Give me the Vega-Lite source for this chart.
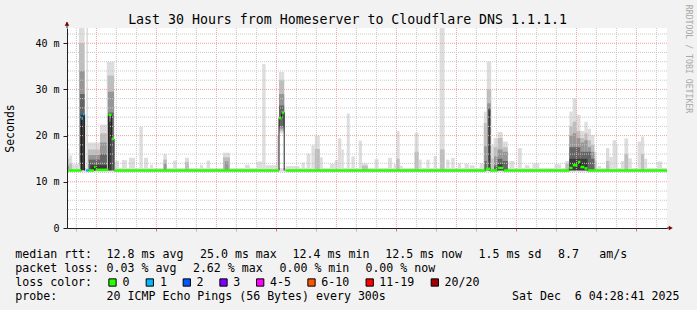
{
  "$schema": "https://vega.github.io/schema/vega-lite/v6.json",
  "width": 600,
  "height": 200,
  "autosize": {"type": "none"},
  "padding": {"left": 67, "top": 28, "right": 30, "bottom": 82},
  "background": "#f2f2f2",
  "config": {
    "view": {"fill": "#ffffff", "stroke": null},
    "font": "DejaVu Sans Mono",
    "axis": {"labelFont": "DejaVu Sans Mono", "titleFont": "DejaVu Sans Mono", "labelColor": "#000000", "titleColor": "#000000", "titleFontWeight": "normal"}
  },
  "datasets": {
    "smoke": [
      {"band":1,"h0":-1.47,"h1":28.53,"lo":12.2,"hi":13.0},
      {"band":1,"h0":-1.47,"h1":-1.36,"lo":12.3,"hi":17.2},
      {"band":1,"h0":-1.36,"h1":-1.21,"lo":12.3,"hi":15.7},
      {"band":1,"h0":-1.21,"h1":-0.87,"lo":12.3,"hi":13.8},
      {"band":1,"h0":-0.87,"h1":-0.59,"lo":12.3,"hi":43.3},
      {"band":1,"h0":-0.50,"h1":-0.42,"lo":12.3,"hi":43.3},
      {"band":1,"h0":-0.42,"h1":0.18,"lo":12.3,"hi":18.5},
      {"band":1,"h0":0.18,"h1":0.52,"lo":12.3,"hi":22.4},
      {"band":1,"h0":0.52,"h1":0.90,"lo":12.3,"hi":36.0},
      {"band":1,"h0":0.90,"h1":1.13,"lo":12.3,"hi":14.5},
      {"band":1,"h0":1.27,"h1":1.52,"lo":12.3,"hi":14.7},
      {"band":1,"h0":1.63,"h1":1.93,"lo":12.3,"hi":15.2},
      {"band":1,"h0":2.15,"h1":2.32,"lo":12.3,"hi":21.9},
      {"band":1,"h0":2.38,"h1":2.58,"lo":12.3,"hi":15.2},
      {"band":1,"h0":2.68,"h1":2.83,"lo":12.3,"hi":13.7},
      {"band":1,"h0":3.35,"h1":3.52,"lo":12.3,"hi":16.0},
      {"band":1,"h0":3.84,"h1":4.01,"lo":12.3,"hi":14.6},
      {"band":1,"h0":4.43,"h1":4.63,"lo":12.3,"hi":15.2},
      {"band":1,"h0":5.18,"h1":5.33,"lo":12.3,"hi":13.7},
      {"band":1,"h0":5.51,"h1":5.68,"lo":12.3,"hi":14.6},
      {"band":1,"h0":6.33,"h1":6.68,"lo":12.3,"hi":16.3},
      {"band":1,"h0":7.42,"h1":7.67,"lo":12.3,"hi":13.7},
      {"band":1,"h0":8.01,"h1":8.29,"lo":12.3,"hi":14.4},
      {"band":1,"h0":8.29,"h1":8.46,"lo":12.3,"hi":35.5},
      {"band":1,"h0":8.46,"h1":9.02,"lo":12.3,"hi":13.6},
      {"band":1,"h0":9.02,"h1":9.13,"lo":12.3,"hi":20.0},
      {"band":1,"h0":9.13,"h1":9.39,"lo":20.5,"hi":33.8},
      {"band":1,"h0":9.47,"h1":10.16,"lo":12.3,"hi":13.4},
      {"band":1,"h0":10.26,"h1":10.42,"lo":12.3,"hi":14.2},
      {"band":1,"h0":10.51,"h1":10.70,"lo":12.3,"hi":16.1},
      {"band":1,"h0":10.75,"h1":10.92,"lo":12.3,"hi":17.9},
      {"band":1,"h0":10.92,"h1":11.17,"lo":12.3,"hi":20.0},
      {"band":1,"h0":11.17,"h1":11.32,"lo":12.3,"hi":15.3},
      {"band":1,"h0":11.67,"h1":11.92,"lo":12.3,"hi":13.9},
      {"band":1,"h0":11.92,"h1":12.07,"lo":12.3,"hi":14.7},
      {"band":1,"h0":12.07,"h1":12.25,"lo":12.3,"hi":19.4},
      {"band":1,"h0":12.25,"h1":12.37,"lo":12.3,"hi":17.0},
      {"band":1,"h0":12.52,"h1":12.67,"lo":12.3,"hi":24.8},
      {"band":1,"h0":12.75,"h1":12.92,"lo":12.3,"hi":15.5},
      {"band":1,"h0":13.12,"h1":13.28,"lo":12.3,"hi":18.9},
      {"band":1,"h0":13.28,"h1":13.57,"lo":12.3,"hi":14.0},
      {"band":1,"h0":13.91,"h1":14.11,"lo":12.3,"hi":14.9},
      {"band":1,"h0":14.58,"h1":14.78,"lo":12.3,"hi":15.2},
      {"band":1,"h0":14.86,"h1":15.00,"lo":12.3,"hi":13.8},
      {"band":1,"h0":15.00,"h1":15.16,"lo":12.3,"hi":21.0},
      {"band":1,"h0":15.16,"h1":15.31,"lo":12.3,"hi":13.5},
      {"band":1,"h0":15.91,"h1":16.11,"lo":12.3,"hi":20.6},
      {"band":1,"h0":16.11,"h1":16.26,"lo":12.3,"hi":14.8},
      {"band":1,"h0":16.50,"h1":16.66,"lo":12.3,"hi":14.8},
      {"band":1,"h0":16.86,"h1":17.03,"lo":12.3,"hi":15.6},
      {"band":1,"h0":17.16,"h1":17.41,"lo":12.3,"hi":43.3},
      {"band":1,"h0":17.49,"h1":17.66,"lo":12.3,"hi":14.8},
      {"band":1,"h0":17.74,"h1":17.91,"lo":12.3,"hi":15.2},
      {"band":1,"h0":18.07,"h1":18.24,"lo":12.3,"hi":14.0},
      {"band":1,"h0":18.41,"h1":18.62,"lo":12.3,"hi":13.9},
      {"band":1,"h0":18.66,"h1":18.91,"lo":12.3,"hi":13.6},
      {"band":1,"h0":19.16,"h1":19.37,"lo":12.3,"hi":14.0},
      {"band":1,"h0":19.37,"h1":19.52,"lo":12.3,"hi":25.2},
      {"band":1,"h0":19.52,"h1":19.74,"lo":12.3,"hi":36.0},
      {"band":1,"h0":19.74,"h1":19.86,"lo":12.3,"hi":18.0},
      {"band":1,"h0":19.86,"h1":20.06,"lo":12.3,"hi":19.5},
      {"band":1,"h0":20.06,"h1":20.31,"lo":12.3,"hi":20.8},
      {"band":1,"h0":20.31,"h1":20.57,"lo":12.3,"hi":18.7},
      {"band":1,"h0":20.65,"h1":20.90,"lo":12.3,"hi":14.5},
      {"band":1,"h0":21.07,"h1":21.27,"lo":12.3,"hi":17.3},
      {"band":1,"h0":21.41,"h1":21.66,"lo":12.3,"hi":13.6},
      {"band":1,"h0":21.80,"h1":22.15,"lo":12.3,"hi":14.0},
      {"band":1,"h0":22.90,"h1":23.24,"lo":12.3,"hi":13.8},
      {"band":1,"h0":23.45,"h1":23.65,"lo":12.3,"hi":14.5},
      {"band":1,"h0":23.65,"h1":23.81,"lo":12.3,"hi":25.2},
      {"band":1,"h0":23.81,"h1":24.01,"lo":12.3,"hi":28.1},
      {"band":1,"h0":24.01,"h1":24.20,"lo":12.3,"hi":24.5},
      {"band":1,"h0":24.20,"h1":24.40,"lo":12.3,"hi":21.0},
      {"band":1,"h0":24.40,"h1":24.56,"lo":12.3,"hi":23.0},
      {"band":1,"h0":24.56,"h1":24.73,"lo":12.3,"hi":21.5},
      {"band":1,"h0":24.73,"h1":24.90,"lo":12.3,"hi":20.1},
      {"band":1,"h0":24.90,"h1":25.00,"lo":12.3,"hi":16.5},
      {"band":1,"h0":25.06,"h1":25.23,"lo":12.3,"hi":13.4},
      {"band":1,"h0":25.48,"h1":25.65,"lo":12.3,"hi":17.3},
      {"band":1,"h0":25.65,"h1":25.81,"lo":12.3,"hi":15.4},
      {"band":1,"h0":25.81,"h1":25.98,"lo":12.3,"hi":19.0},
      {"band":1,"h0":25.98,"h1":26.06,"lo":12.3,"hi":18.3},
      {"band":1,"h0":26.23,"h1":26.40,"lo":12.3,"hi":14.5},
      {"band":1,"h0":26.40,"h1":26.59,"lo":12.3,"hi":19.4},
      {"band":1,"h0":26.59,"h1":26.77,"lo":12.3,"hi":15.1},
      {"band":1,"h0":27.06,"h1":27.23,"lo":12.3,"hi":18.7},
      {"band":1,"h0":27.23,"h1":27.39,"lo":12.3,"hi":19.8},
      {"band":1,"h0":27.39,"h1":27.54,"lo":12.3,"hi":15.0},
      {"band":1,"h0":28.04,"h1":28.29,"lo":12.3,"hi":14.4},
      {"band":2,"h0":-1.47,"h1":-1.36,"lo":12.4,"hi":15.0},
      {"band":2,"h0":-1.36,"h1":-1.21,"lo":12.4,"hi":14.0},
      {"band":2,"h0":-0.87,"h1":-0.59,"lo":13.5,"hi":40.0},
      {"band":2,"h0":-0.42,"h1":0.18,"lo":12.4,"hi":17.0},
      {"band":2,"h0":0.18,"h1":0.52,"lo":12.4,"hi":20.5},
      {"band":2,"h0":0.56,"h1":0.88,"lo":12.4,"hi":33.0},
      {"band":2,"h0":3.35,"h1":3.52,"lo":12.4,"hi":14.8},
      {"band":2,"h0":4.43,"h1":4.63,"lo":12.4,"hi":14.3},
      {"band":2,"h0":6.33,"h1":6.68,"lo":12.4,"hi":15.3},
      {"band":2,"h0":9.13,"h1":9.39,"lo":21.0,"hi":32.0},
      {"band":2,"h0":10.92,"h1":11.17,"lo":12.4,"hi":17.1},
      {"band":2,"h0":13.28,"h1":13.57,"lo":12.4,"hi":13.5},
      {"band":2,"h0":15.00,"h1":15.16,"lo":12.4,"hi":15.0},
      {"band":2,"h0":15.91,"h1":16.11,"lo":12.4,"hi":16.5},
      {"band":2,"h0":17.18,"h1":17.41,"lo":12.4,"hi":17.0},
      {"band":2,"h0":19.37,"h1":19.52,"lo":12.4,"hi":22.7},
      {"band":2,"h0":19.52,"h1":19.74,"lo":12.4,"hi":30.0},
      {"band":2,"h0":19.74,"h1":19.86,"lo":12.4,"hi":15.0},
      {"band":2,"h0":19.86,"h1":20.06,"lo":12.4,"hi":17.5},
      {"band":2,"h0":20.06,"h1":20.31,"lo":12.4,"hi":19.5},
      {"band":2,"h0":20.31,"h1":20.57,"lo":12.4,"hi":17.5},
      {"band":2,"h0":23.45,"h1":23.65,"lo":12.4,"hi":14.0},
      {"band":2,"h0":23.65,"h1":23.81,"lo":12.4,"hi":22.0},
      {"band":2,"h0":23.81,"h1":24.01,"lo":12.4,"hi":23.0},
      {"band":2,"h0":24.01,"h1":24.20,"lo":12.4,"hi":21.0},
      {"band":2,"h0":24.20,"h1":24.40,"lo":12.4,"hi":19.5},
      {"band":2,"h0":24.40,"h1":24.56,"lo":12.4,"hi":20.5},
      {"band":2,"h0":24.56,"h1":24.73,"lo":12.4,"hi":19.0},
      {"band":2,"h0":24.73,"h1":24.90,"lo":12.4,"hi":18.0},
      {"band":2,"h0":24.90,"h1":25.00,"lo":12.4,"hi":14.5},
      {"band":2,"h0":25.48,"h1":25.65,"lo":12.4,"hi":14.5},
      {"band":2,"h0":26.40,"h1":26.59,"lo":12.4,"hi":16.0},
      {"band":2,"h0":27.23,"h1":27.39,"lo":12.4,"hi":16.0},
      {"band":3,"h0":-1.47,"h1":-1.36,"lo":12.4,"hi":13.5},
      {"band":3,"h0":-0.84,"h1":-0.59,"lo":14.0,"hi":34.0},
      {"band":3,"h0":-0.40,"h1":0.18,"lo":12.4,"hi":15.8},
      {"band":3,"h0":0.18,"h1":0.52,"lo":12.4,"hi":18.5},
      {"band":3,"h0":0.58,"h1":0.88,"lo":12.5,"hi":29.5},
      {"band":3,"h0":3.37,"h1":3.50,"lo":12.4,"hi":14.0},
      {"band":3,"h0":6.41,"h1":6.61,"lo":12.4,"hi":14.4},
      {"band":3,"h0":9.13,"h1":9.39,"lo":21.5,"hi":29.0},
      {"band":3,"h0":19.39,"h1":19.52,"lo":12.5,"hi":17.7},
      {"band":3,"h0":19.54,"h1":19.72,"lo":12.5,"hi":27.0},
      {"band":3,"h0":19.88,"h1":20.06,"lo":12.5,"hi":15.5},
      {"band":3,"h0":20.06,"h1":20.31,"lo":12.5,"hi":17.0},
      {"band":3,"h0":20.31,"h1":20.57,"lo":12.5,"hi":16.5},
      {"band":3,"h0":23.65,"h1":23.81,"lo":12.5,"hi":20.0},
      {"band":3,"h0":23.81,"h1":24.01,"lo":12.5,"hi":20.5},
      {"band":3,"h0":24.01,"h1":24.20,"lo":12.5,"hi":19.5},
      {"band":3,"h0":24.20,"h1":24.40,"lo":12.5,"hi":18.5},
      {"band":3,"h0":24.40,"h1":24.56,"lo":12.5,"hi":19.0},
      {"band":3,"h0":24.56,"h1":24.73,"lo":12.5,"hi":17.5},
      {"band":3,"h0":24.73,"h1":24.90,"lo":12.5,"hi":16.5},
      {"band":4,"h0":-0.82,"h1":-0.59,"lo":14.5,"hi":29.0},
      {"band":4,"h0":-0.38,"h1":0.18,"lo":12.5,"hi":14.8},
      {"band":4,"h0":0.18,"h1":0.52,"lo":12.5,"hi":16.0},
      {"band":4,"h0":0.59,"h1":0.86,"lo":12.5,"hi":25.0},
      {"band":4,"h0":9.13,"h1":9.39,"lo":22.0,"hi":26.5},
      {"band":4,"h0":19.41,"h1":19.52,"lo":12.5,"hi":14.5},
      {"band":4,"h0":19.58,"h1":19.70,"lo":12.5,"hi":26.0},
      {"band":4,"h0":19.88,"h1":20.06,"lo":12.5,"hi":13.5},
      {"band":4,"h0":20.06,"h1":20.31,"lo":12.5,"hi":15.0},
      {"band":4,"h0":20.31,"h1":20.57,"lo":12.5,"hi":14.5},
      {"band":4,"h0":23.65,"h1":24.20,"lo":12.5,"hi":17.5},
      {"band":4,"h0":24.20,"h1":24.73,"lo":12.5,"hi":16.5},
      {"band":4,"h0":24.73,"h1":24.90,"lo":12.5,"hi":15.0},
      {"band":5,"h0":-0.80,"h1":-0.59,"lo":12.5,"hi":24.5},
      {"band":5,"h0":-0.30,"h1":0.52,"lo":12.5,"hi":13.6},
      {"band":5,"h0":0.60,"h1":0.76,"lo":12.5,"hi":23.0},
      {"band":5,"h0":19.61,"h1":19.69,"lo":12.5,"hi":25.5},
      {"band":5,"h0":20.06,"h1":20.31,"lo":12.5,"hi":13.8},
      {"band":5,"h0":23.65,"h1":24.56,"lo":12.5,"hi":15.0}
    ],
    "gridX": [{"g":-1},{"g":0},{"g":1},{"g":2},{"g":3},{"g":4},{"g":5},{"g":6},{"g":7},{"g":8},{"g":9},{"g":10},{"g":11},{"g":12},{"g":13},{"g":14},{"g":15},{"g":16},{"g":17},{"g":18},{"g":19},{"g":20},{"g":21},{"g":22},{"g":23},{"g":24},{"g":25},{"g":26},{"g":27},{"g":28}],
    "gridY": [{"g":2},{"g":4},{"g":6},{"g":8},{"g":10},{"g":12},{"g":14},{"g":16},{"g":18},{"g":20},{"g":22},{"g":24},{"g":26},{"g":28},{"g":30},{"g":32},{"g":34},{"g":36},{"g":38},{"g":40},{"g":42}],
    "medLine": [
      {"seg":"a","i":1,"h":-1.47,"v":12.45},{"seg":"a","i":2,"h":-0.75,"v":12.45},{"seg":"a","i":3,"h":-0.75,"v":23.7},{"seg":"a","i":4,"h":-0.67,"v":23.7},{"seg":"a","i":5,"h":-0.67,"v":24.6},{"seg":"a","i":6,"h":-0.59,"v":24.6},{"seg":"a","i":7,"h":-0.59,"v":12.45},
      {"seg":"b","i":8,"h":-0.50,"v":12.45},{"seg":"b","i":9,"h":-0.12,"v":12.45},{"seg":"b","i":10,"h":-0.12,"v":13.2},{"seg":"b","i":11,"h":-0.04,"v":13.2},{"seg":"b","i":12,"h":-0.04,"v":12.6},{"seg":"b","i":13,"h":0.60,"v":12.6},{"seg":"b","i":14,"h":0.60,"v":24.5},{"seg":"b","i":15,"h":0.76,"v":24.5},{"seg":"b","i":16,"h":0.76,"v":19.3},{"seg":"b","i":17,"h":0.88,"v":19.3},{"seg":"b","i":18,"h":0.88,"v":12.45},{"seg":"b","i":19,"h":9.13,"v":12.45},{"seg":"b","i":20,"h":9.13,"v":23.8},{"seg":"b","i":21,"h":9.26,"v":23.8},{"seg":"b","i":22,"h":9.26,"v":25.0},{"seg":"b","i":23,"h":9.39,"v":25.0},{"seg":"b","i":24,"h":9.39,"v":12.45},
      {"seg":"c","i":25,"h":9.47,"v":12.45},{"seg":"c","i":26,"h":19.46,"v":12.45},{"seg":"c","i":27,"h":19.46,"v":12.8},{"seg":"c","i":28,"h":19.68,"v":12.8},{"seg":"c","i":29,"h":19.68,"v":12.45},{"seg":"c","i":30,"h":20.06,"v":12.45},{"seg":"c","i":31,"h":20.06,"v":13.0},{"seg":"c","i":32,"h":20.36,"v":13.0},{"seg":"c","i":33,"h":20.36,"v":12.45},{"seg":"c","i":34,"h":23.65,"v":12.45},{"seg":"c","i":35,"h":23.65,"v":13.0},{"seg":"c","i":36,"h":23.81,"v":13.0},{"seg":"c","i":37,"h":23.81,"v":13.6},{"seg":"c","i":38,"h":24.06,"v":13.6},{"seg":"c","i":39,"h":24.06,"v":14.3},{"seg":"c","i":40,"h":24.20,"v":14.3},{"seg":"c","i":41,"h":24.20,"v":13.2},{"seg":"c","i":42,"h":24.40,"v":13.2},{"seg":"c","i":43,"h":24.40,"v":12.9},{"seg":"c","i":44,"h":24.56,"v":12.9},{"seg":"c","i":45,"h":24.56,"v":12.45},{"seg":"c","i":46,"h":28.53,"v":12.45}
    ],
    "medBand": [
      {"h0":-1.47,"h1":-0.75,"v":12.45,"loss":"0"},
      {"h0":-0.75,"h1":-0.67,"v":23.7,"loss":"1"},
      {"h0":-0.67,"h1":-0.59,"v":24.6,"loss":"1"},
      {"h0":-0.50,"h1":-0.39,"v":12.45,"loss":"1"},
      {"h0":-0.39,"h1":-0.12,"v":12.45,"loss":"0"},
      {"h0":-0.12,"h1":-0.04,"v":13.2,"loss":"0"},
      {"h0":-0.04,"h1":0.60,"v":12.6,"loss":"0"},
      {"h0":0.60,"h1":0.76,"v":24.5,"loss":"0"},
      {"h0":0.76,"h1":0.88,"v":19.3,"loss":"0"},
      {"h0":0.88,"h1":9.13,"v":12.45,"loss":"0"},
      {"h0":9.13,"h1":9.26,"v":23.8,"loss":"0"},
      {"h0":9.26,"h1":9.39,"v":25.0,"loss":"0"},
      {"h0":9.47,"h1":19.46,"v":12.45,"loss":"0"},
      {"h0":19.46,"h1":19.68,"v":12.8,"loss":"0"},
      {"h0":19.68,"h1":20.06,"v":12.45,"loss":"0"},
      {"h0":20.06,"h1":20.36,"v":13.0,"loss":"0"},
      {"h0":20.36,"h1":23.65,"v":12.45,"loss":"0"},
      {"h0":23.65,"h1":23.81,"v":13.0,"loss":"0"},
      {"h0":23.81,"h1":24.06,"v":13.6,"loss":"0"},
      {"h0":24.06,"h1":24.20,"v":14.3,"loss":"0"},
      {"h0":24.20,"h1":24.40,"v":13.2,"loss":"0"},
      {"h0":24.40,"h1":24.56,"v":12.9,"loss":"0"},
      {"h0":24.56,"h1":28.53,"v":12.45,"loss":"0"}
    ],
    "legendText": [
      {"h":-4.055,"v":-6.56,"label":"median rtt:"},
      {"h":0.51,"v":-6.56,"label":"12.8 ms avg"},
      {"h":5.18,"v":-6.56,"label":"25.0 ms max"},
      {"h":9.81,"v":-6.56,"label":"12.4 ms min"},
      {"h":14.445,"v":-6.56,"label":"12.5 ms now"},
      {"h":19.11,"v":-6.56,"label":"1.5 ms sd"},
      {"h":23.08,"v":-6.56,"label":"8.7"},
      {"h":25.145,"v":-6.56,"label":"am/s"},
      {"h":-4.055,"v":-9.59,"label":"packet loss:"},
      {"h":0.51,"v":-9.59,"label":"0.03 % avg"},
      {"h":4.825,"v":-9.59,"label":"2.62 % max"},
      {"h":9.155,"v":-9.59,"label":"0.00 % min"},
      {"h":13.45,"v":-9.59,"label":"0.00 % now"},
      {"h":-4.055,"v":-12.62,"label":"loss color:"},
      {"h":1.31,"v":-12.62,"label":"0"},
      {"h":3.18,"v":-12.62,"label":"1"},
      {"h":5.01,"v":-12.62,"label":"2"},
      {"h":6.845,"v":-12.62,"label":"3"},
      {"h":8.68,"v":-12.62,"label":"4-5"},
      {"h":11.245,"v":-12.62,"label":"6-10"},
      {"h":14.145,"v":-12.62,"label":"11-19"},
      {"h":17.41,"v":-12.62,"label":"20/20"},
      {"h":-4.055,"v":-15.65,"label":"probe:"},
      {"h":0.51,"v":-15.65,"label":"20 ICMP Echo Pings (56 Bytes) every 300s"},
      {"h":20.78,"v":-15.65,"label":"Sat Dec\u00a0 6 04:28:41 2025"}
    ],
    "titleText": [{"h":12.555,"v":44.17,"label":"Last 30 Hours from Homeserver to Cloudflare DNS 1.1.1.1"}],
    "swatches": [
      {"h":0.805,"v":-11.8,"loss":"0"},
      {"h":2.67,"v":-11.8,"loss":"1"},
      {"h":4.52,"v":-11.8,"loss":"2"},
      {"h":6.355,"v":-11.8,"loss":"3"},
      {"h":8.19,"v":-11.8,"loss":"4-5"},
      {"h":10.755,"v":-11.8,"loss":"6-10"},
      {"h":13.665,"v":-11.8,"loss":"11-19"},
      {"h":16.92,"v":-11.8,"loss":"20/20"}
    ],
    "watermark": [{"h":29.565,"v":36.59,"label":"RRDTOOL / TOBI OETIKER"}],
    "axisExt": [{"h0":-1.47,"h1":-1.47,"v0":43.3,"v1":44.6},{"h0":28.53,"h1":28.66,"v0":0,"v1":0}],
    "arrows": [{"h":-1.47,"v":44.23,"dir":"up"},{"h":28.72,"v":0,"dir":"right"}]
  },
  "layer": [
    {
      "data": {"name": "smoke"},
      "mark": {"type": "rect"},
      "encoding": {
        "x": {"field": "h0", "type": "quantitative", "scale": {"domain": [-1.47, 28.53], "nice": false, "zero": false},
          "axis": {"values": [-1,0,1,2,3,4,5,6,7,8,9,10,11,12,13,14,15,16,17,18,19,20,21,22,23,24,25,26,27,28], "grid": false, "title": null,
            "labelExpr": "datum.value % 6 === 0 ? (datum.value >= 24 ? 'Sat ' : 'Fri ') + ((datum.value % 24) < 10 ? '0' : '') + (datum.value % 24) + ':00' : ''",
            "labelFontSize": 10, "labelPadding": 2, "tickSize": 3,
            "tickColor": {"condition": {"test": "datum.value % 3 === 0", "value": "#e07070"}, "value": "#b8b8b8"},
            "domainColor": "#1f1f1f", "labelOverlap": false, "labelFlush": false, "zindex": 1}},
        "x2": {"field": "h1"},
        "y": {"field": "lo", "type": "quantitative", "scale": {"domain": [0, 43.3], "nice": false, "zero": false},
          "axis": {"values": [0,10,20,30,40], "grid": false, "title": "Seconds", "titleFontSize": 11.5, "titleX": -56.5, "titleY": 100, "titleAngle": -90, "titleAlign": "center", "titleBaseline": "middle",
            "labelExpr": "datum.value === 0 ? '0\u00a0\u00a0' : datum.value + ' m'",
            "labelFontSize": 10, "labelPadding": 4, "tickSize": 4, "tickColor": "#1f1f1f", "domainColor": "#1f1f1f", "labelOverlap": false, "zindex": 1}},
        "y2": {"field": "hi"},
        "fill": {"field": "band", "type": "ordinal", "scale": {"domain": [1,2,3,4,5], "range": ["#dddddd","#bebebe","#969696","#656565","#3a3a3a"]}, "legend": null}
      }
    },
    {
      "data": {"name": "gridX"},
      "mark": {"type": "rule", "strokeDash": [1,1], "strokeWidth": 1},
      "encoding": {
        "x": {"field": "g", "type": "quantitative"},
        "color": {"condition": {"test": "datum.g % 3 === 0", "value": "#f0a0a0"}, "value": "#c8c8c8"}
      }
    },
    {
      "data": {"name": "gridY"},
      "mark": {"type": "rule", "strokeDash": [1,1], "strokeWidth": 1},
      "encoding": {
        "y": {"field": "g", "type": "quantitative"},
        "color": {"condition": {"test": "datum.g % 10 === 0", "value": "#f0a0a0"}, "value": "#c8c8c8"}
      }
    },
    {
      "data": {"name": "medLine"},
      "mark": {"type": "line", "color": "#202020", "strokeWidth": 1},
      "encoding": {
        "x": {"field": "h", "type": "quantitative"},
        "y": {"field": "v", "type": "quantitative"},
        "detail": {"field": "seg"},
        "order": {"field": "i"}
      }
    },
    {
      "data": {"name": "medBand"},
      "mark": {"type": "rule", "strokeWidth": 2.5, "strokeCap": "butt"},
      "encoding": {
        "x": {"field": "h0", "type": "quantitative"},
        "x2": {"field": "h1"},
        "y": {"field": "v", "type": "quantitative"},
        "color": {"field": "loss", "type": "nominal", "scale": {"domain": ["0","1","2","3","4-5","6-10","11-19","20/20"], "range": ["#26ff00","#00b8ff","#0059ff","#7e00ff","#ff00ff","#ff5500","#ff0000","#a10000"]}, "legend": null}
      }
    },
    {
      "data": {"name": "swatches"},
      "mark": {"type": "point", "shape": "square", "filled": true, "size": 53, "stroke": "#000000", "strokeWidth": 1, "opacity": 1},
      "encoding": {
        "x": {"field": "h", "type": "quantitative"},
        "y": {"field": "v", "type": "quantitative"},
        "color": {"field": "loss", "type": "nominal", "legend": null}
      }
    },
    {
      "data": {"name": "legendText"},
      "mark": {"type": "text", "align": "left", "baseline": "alphabetic", "font": "DejaVu Sans Mono", "fontSize": 11.6, "color": "#000000"},
      "encoding": {
        "x": {"field": "h", "type": "quantitative"},
        "y": {"field": "v", "type": "quantitative"},
        "text": {"field": "label"}
      }
    },
    {
      "data": {"name": "titleText"},
      "mark": {"type": "text", "align": "center", "baseline": "alphabetic", "font": "DejaVu Sans Mono", "fontSize": 13.25, "color": "#000000"},
      "encoding": {
        "x": {"field": "h", "type": "quantitative"},
        "y": {"field": "v", "type": "quantitative"},
        "text": {"field": "label"}
      }
    },
    {
      "data": {"name": "watermark"},
      "mark": {"type": "text", "align": "center", "baseline": "middle", "angle": 90, "font": "DejaVu Sans Mono", "fontSize": 8.2, "color": "#a8a8a8"},
      "encoding": {
        "x": {"field": "h", "type": "quantitative"},
        "y": {"field": "v", "type": "quantitative"},
        "text": {"field": "label"}
      }
    },
    {
      "data": {"name": "axisExt"},
      "mark": {"type": "rule", "color": "#1f1f1f", "strokeWidth": 1},
      "encoding": {
        "x": {"field": "h0", "type": "quantitative"},
        "x2": {"field": "h1"},
        "y": {"field": "v0", "type": "quantitative"},
        "y2": {"field": "v1"}
      }
    },
    {
      "data": {"name": "arrows"},
      "mark": {"type": "point", "filled": true, "size": 22, "color": "#800000", "opacity": 1},
      "encoding": {
        "x": {"field": "h", "type": "quantitative"},
        "y": {"field": "v", "type": "quantitative"},
        "shape": {"field": "dir", "type": "nominal", "scale": {"domain": ["up","right"], "range": ["triangle-up","triangle-right"]}, "legend": null}
      }
    }
  ]
}
